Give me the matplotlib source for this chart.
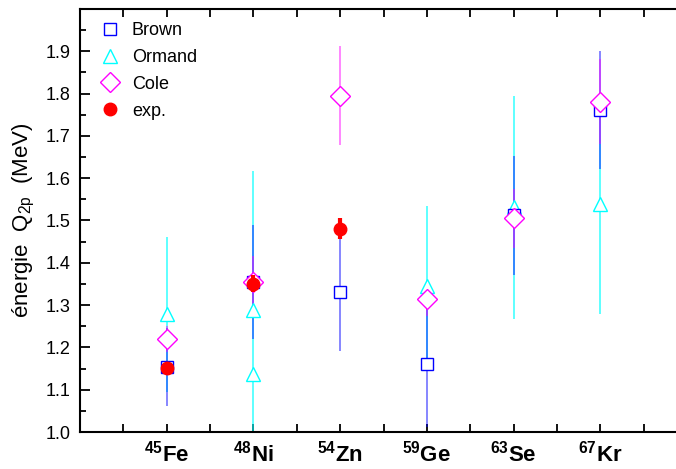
import matplotlib
matplotlib.use("Agg")
import matplotlib.pyplot as plt
from matplotlib import font_manager as fm

# ---- data ----
nuclei = [r"$\mathbf{^{45}Fe}$", r"$\mathbf{^{48}Ni}$", r"$\mathbf{^{54}Zn}$",
          r"$\mathbf{^{59}Ge}$", r"$\mathbf{^{63}Se}$", r"$\mathbf{^{67}Kr}$"]
nuc_pos = [1, 2, 3, 4, 5, 6]

brown_x = [1, 2, 3, 4, 5, 6]
brown_y = [1.154, 1.355, 1.331, 1.161, 1.512, 1.761]
brown_err = [0.093, 0.135, 0.14, 0.15, 0.14, 0.14]

ormand_x = [1, 2, 2, 4, 5, 6]
ormand_y = [1.278, 1.288, 1.137, 1.345, 1.531, 1.538]
ormand_err = [0.184, 0.33, 0.0, 0.19, 0.263, 0.26]

cole_x = [1, 2, 3, 4, 5, 6]
cole_y = [1.220, 1.355, 1.795, 1.314, 1.505, 1.781]
cole_err = [0.03, 0.06, 0.117, 0.04, 0.07, 0.10]

exp_x = [1, 2, 3]
exp_y = [1.152, 1.351, 1.481]
exp_err = [0.012, 0.02, 0.024]

yticks = [1.0, 1.1, 1.2, 1.3, 1.4, 1.5, 1.6, 1.7, 1.8, 1.9]

# ---- fonts ----
names = {f.name for f in fm.fontManager.ttflist}
base = "Liberation Sans Narrow" if "Liberation Sans Narrow" in names else "Liberation Sans"
plt.rcParams['font.family'] = [base, 'DejaVu Sans']
plt.rcParams['mathtext.fontset'] = 'custom'
plt.rcParams['mathtext.rm'] = base
plt.rcParams['mathtext.bf'] = 'Liberation Sans:bold'

W, H = 676, 469
fig = plt.figure(figsize=(W / 100, H / 100), dpi=100)
left_px, right_px, top_px, bot_px = 80, 80 + 607, 9, 432
ax = fig.add_axes([left_px / W, 1 - bot_px / H, (right_px - left_px) / W, (bot_px - top_px) / H])

blue, cyan, mag, red = '#0000ff', '#00ffff', '#ff00ff', '#ff0000'

ax.errorbar(ormand_x, ormand_y, yerr=ormand_err, fmt='none', ecolor=cyan, elinewidth=1.1, alpha=0.8, zorder=2)
ax.errorbar(brown_x, brown_y, yerr=brown_err, fmt='none', ecolor=blue, elinewidth=1.1, alpha=0.6, zorder=2)
ax.errorbar(cole_x, cole_y, yerr=cole_err, fmt='none', ecolor=mag, elinewidth=1.1, alpha=0.6, zorder=2)
ax.errorbar(exp_x, exp_y, yerr=exp_err, fmt='none', ecolor=red, elinewidth=3, zorder=5)

ax.plot(ormand_x, ormand_y, linestyle='none', marker='^', ms=10, mfc='white', mec=cyan, mew=1, label='Ormand', zorder=3)
ax.plot(brown_x, brown_y, linestyle='none', marker='s', ms=9, mfc='white', mec=blue, mew=1, label='Brown', zorder=3.5)
ax.plot(cole_x, cole_y, linestyle='none', marker='D', ms=10, mfc='white', mec=mag, mew=1, label='Cole', zorder=4)
ax.plot(exp_x, exp_y, linestyle='none', marker='o', ms=9, mfc=red, mec=red, label='exp.', zorder=6)

ax.set_xlim(0, 7)
ax.set_ylim(1.0, 2.0)
ax.set_yticks(yticks)
ax.set_yticklabels([f"{v:.1f}" for v in yticks])
ax.set_yticks([v + 0.05 for v in yticks], minor=True)
ax.set_xticks(nuc_pos)
ax.set_xticklabels(nuclei, fontsize=16)
ax.set_xticks([p + 0.5 for p in [0] + nuc_pos], minor=True)

ax.tick_params(axis='both', which='both', direction='in', width=1.3, color='black')
ax.tick_params(axis='y', which='major', length=7, labelsize=13, pad=7)
ax.tick_params(axis='y', which='minor', length=4)
ax.tick_params(axis='x', which='both', length=6, top=True, pad=6)
for s in ax.spines.values():
    s.set_linewidth(1.5)

ax.set_ylabel(r"énergie  Q$_{\mathrm{2p}}$  (MeV)", fontsize=16, labelpad=6)

h, l = ax.get_legend_handles_labels()
order = [l.index(n) for n in ['Brown', 'Ormand', 'Cole', 'exp.']]
ax.legend([h[i] for i in order], [l[i] for i in order], loc='upper left', frameon=False,
          fontsize=13, handletextpad=0.4, labelspacing=0.55, borderaxespad=0.2,
          handlelength=1.6, bbox_to_anchor=(0.008, 0.995))

fig.savefig('out.png', dpi=100)
